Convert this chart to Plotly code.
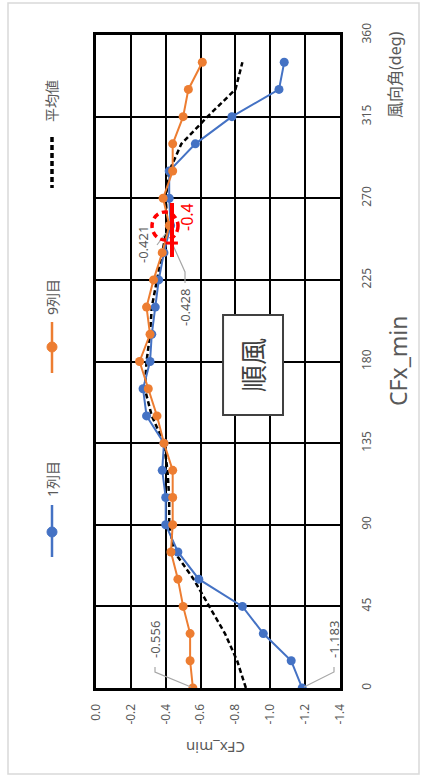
import plotly.graph_objects as go

FONT = "Noto Sans, Noto Sans CJK JP"
GRAY = "#595959"
LEADER = "#A6A6A6"

angles = list(range(0, 360, 15))
col1 = [-1.183, -1.12, -0.96, -0.84, -0.59, -0.47, -0.40, -0.40, -0.38, -0.39,
        -0.29, -0.27, -0.31, -0.32, -0.34, -0.36, -0.39, -0.428, -0.42, -0.42,
        -0.57, -0.78, -1.05, -1.08]
col9 = [-0.556, -0.54, -0.54, -0.50, -0.47, -0.43, -0.44, -0.44, -0.44, -0.39,
        -0.35, -0.30, -0.25, -0.31, -0.29, -0.33, -0.38, -0.421, -0.385, -0.44,
        -0.44, -0.50, -0.53, -0.61]
avg = [-0.86, -0.81, -0.74, -0.65, -0.56, -0.45, -0.42, -0.42, -0.41, -0.39,
       -0.32, -0.28, -0.29, -0.31, -0.32, -0.35, -0.38, -0.41, -0.40, -0.42,
       -0.49, -0.64, -0.80, -0.84]

x_ticks = [0.0, -0.2, -0.4, -0.6, -0.8, -1.0, -1.2, -1.4]
y_ticks = [0, 45, 90, 135, 180, 225, 270, 315, 360]

W, H = 423, 776
L, R, T, B = 96, 83, 35, 88
PW, PH = W - L - R, H - T - B


def px(x):
    return (x - L) / PW


def py(y):
    return (H - B - y) / PH


def text(s, x, y, size, color=GRAY, angle=-90):
    return dict(text=s, xref="paper", yref="paper", x=px(x), y=py(y),
                xanchor="center", yanchor="middle", showarrow=False,
                textangle=angle, font=dict(family=FONT, size=size, color=color))


def path(points):
    d = " ".join(("M" if i == 0 else "L") + f" {px(a):.4f},{py(b):.4f}"
                 for i, (a, b) in enumerate(points))
    return dict(type="path", xref="paper", yref="paper", path=d,
                line=dict(color=LEADER, width=1.2))


fig = go.Figure()
fig.add_trace(go.Scatter(x=avg, y=angles, mode="lines", name="平均値",
                         line=dict(color="black", width=2.5, dash="5px,3px")))
fig.add_trace(go.Scatter(x=col1, y=angles, mode="lines+markers", name="1列目",
                         line=dict(color="#4472C4", width=2),
                         marker=dict(size=9, color="#4472C4")))
fig.add_trace(go.Scatter(x=col9, y=angles, mode="lines+markers", name="9列目",
                         line=dict(color="#ED7D31", width=2),
                         marker=dict(size=9, color="#ED7D31")))

shapes = []
annotations = []

# outer chart border
shapes.append(dict(type="rect", xref="paper", yref="paper", x0=px(8), x1=px(419),
                   y0=py(3), y1=py(774), line=dict(color="#D9D9D9", width=1.5),
                   layer="below"))

# legend (drawn rotated)
leg = [("平均値", "black", 137, 188, None, 101, "5px,3px"),
       ("9列目", "#ED7D31", 322, 373, 347, 297, None),
       ("1列目", "#4472C4", 505, 557, 532, 479, None)]
for name, col, l0, l1, mk, tc, dash in leg:
    shapes.append(dict(type="line", xref="paper", yref="paper", x0=px(52), x1=px(52),
                       y0=py(l0), y1=py(l1),
                       line=dict(color=col, width=3.5 if dash else 2.5, dash=dash or "solid")))
    if mk:
        shapes.append(dict(type="circle", xref="paper", yref="paper",
                           xsizemode="pixel", ysizemode="pixel",
                           xanchor=px(52), yanchor=py(mk), x0=-5, x1=5, y0=-5, y1=5,
                           fillcolor=col, line=dict(color=col, width=1)))
    annotations.append(text(name, 52, tc, 14))

# titles
annotations.append(text("CFx_min", 398, 361, 23))
annotations.append(text("風向角(deg)", 395, 75, 16))
annotations.append(text("CFx_min", 216, 748, 15, angle=180))

# 順風 box
shapes.append(dict(type="rect", x0=-0.729, x1=-1.073, y0=150.5, y1=205.6,
                   fillcolor="white", line=dict(color="#404040", width=2)))
annotations.append(dict(text="順風", x=-0.90, y=178, xanchor="center", yanchor="middle",
                        showarrow=False, textangle=-90,
                        font=dict(family=FONT, size=27, color="#404040")))

# data labels with leader lines
annotations.append(text("-0.556", 155, 640, 13))
shapes.append(path([(155, 667), (155, 672), (191, 687)]))
annotations.append(text("-1.183", 334, 640, 13))
shapes.append(path([(334, 667), (334, 672), (304, 687)]))
annotations.append(text("-0.421", 143, 245, 13))
shapes.append(path([(157, 245), (166, 233)]))
annotations.append(text("-0.428", 185, 308, 13))
shapes.append(path([(185, 283), (185, 272), (172, 243)]))

# red markup
shapes.append(dict(type="circle", xsizemode="pixel", ysizemode="pixel",
                   xanchor=-0.396, yanchor=254.7, x0=-13, x1=13, y0=-14, y1=14,
                   line=dict(color="red", width=3.5, dash="6px,4px")))
shapes.append(dict(type="line", x0=-0.436, x1=-0.436, y0=237.6, y1=267.4,
                   line=dict(color="red", width=4)))
shapes.append(dict(type="line", x0=-0.40, x1=-0.47, y0=245.3, y1=245.3,
                   line=dict(color="red", width=3)))
annotations.append(text("-0.4", 187, 217, 16, color="red"))

fig.update_layout(
    width=W, height=H,
    margin=dict(l=L, r=R, t=T, b=B, autoexpand=False),
    paper_bgcolor="white", plot_bgcolor="white",
    showlegend=False,
    shapes=shapes, annotations=annotations,
    font=dict(family=FONT, color=GRAY),
    xaxis=dict(range=[0, -1.4], tickvals=x_ticks,
               ticktext=[f"{v:.1f}" for v in x_ticks],
               tickangle=-90, tickfont=dict(size=12, color=GRAY),
               showgrid=True, gridcolor="black", gridwidth=2,
               showline=True, linecolor="black", linewidth=3, mirror=True,
               zeroline=False, ticks="", ticklabelstandoff=8, automargin=False),
    yaxis=dict(range=[0, 360], tickvals=y_ticks, side="right",
               tickangle=-90, tickfont=dict(size=12, color=GRAY),
               showgrid=True, gridcolor="black", gridwidth=2,
               showline=True, linecolor="black", linewidth=3, mirror=True,
               zeroline=False, ticks="", ticklabelstandoff=14, automargin=False),
)

fig.write_html("out.html", config={"displayModeBar": False},
               post_script="document.body.style.margin='0';")
